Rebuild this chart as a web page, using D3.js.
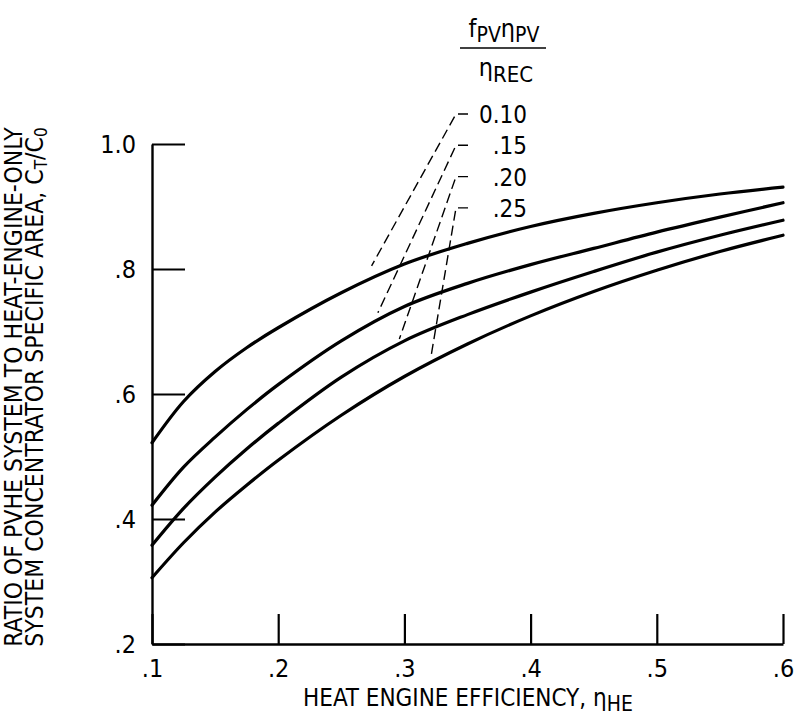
<!DOCTYPE html>
<html>
<head>
<meta charset="utf-8">
<script src="https://cdn.jsdelivr.net/npm/d3@7"></script>
<style>
  body { margin: 0; background: #fff; }
  text { font-family: 'Liberation Sans Narrow', 'DejaVu Sans Condensed', sans-serif; fill: #000; }
</style>
</head>
<body>
<div id="chart"></div>
<script>
// heat engine efficiency (x) and C_T/C_0, one array per curve
var etaHE    = [0.1, 0.125, 0.15, 0.175, 0.2, 0.25, 0.3, 0.35, 0.4, 0.45, 0.5, 0.55, 0.6];
var ratio010 = [0.522, 0.588, 0.636, 0.674, 0.706, 0.762, 0.808, 0.841, 0.868, 0.889, 0.906, 0.920, 0.931];
var ratio015 = [0.422, 0.483, 0.531, 0.575, 0.615, 0.685, 0.740, 0.777, 0.807, 0.833, 0.859, 0.883, 0.906];
var ratio020 = [0.358, 0.417, 0.467, 0.512, 0.553, 0.627, 0.685, 0.727, 0.763, 0.796, 0.827, 0.854, 0.878];
var ratio025 = [0.306, 0.362, 0.411, 0.454, 0.494, 0.566, 0.628, 0.680, 0.725, 0.764, 0.798, 0.828, 0.854];

var curveLabels = ["0.10", ".15", ".20", ".25"];
// where each dashed leader meets its curve (data units)
var leaderEndX = [0.274, 0.279, 0.296, 0.321];
var leaderEndY = [0.805, 0.730, 0.688, 0.659];

var xTicks = [0.1, 0.2, 0.3, 0.4, 0.5, 0.6];
var yTicks = [0.2, 0.4, 0.6, 0.8, 1.0];

var width = 796, height = 720;

var svg = d3.select("#chart")
  .append("svg")
    .attr("width", width)
    .attr("height", height);

var x = d3.scaleLinear().domain([0.1, 0.6]).range([152, 783]);
var y = d3.scaleLinear().domain([0.2, 1.0]).range([644, 144]);

var fmt = function(d) { return d === 1 ? "1.0" : d3.format(".1f")(d).replace(/^0/, ""); };

// axes, ticks point inward
var yAxis = svg.append("g")
    .attr("transform", "translate(" + x(0.1) + ",0)")
    .call(d3.axisLeft(y).tickValues(yTicks).tickSize(-33).tickSizeOuter(0).tickPadding(16).tickFormat(fmt));

var xAxis = svg.append("g")
    .attr("transform", "translate(0," + y(0.2) + ")")
    .call(d3.axisBottom(x).tickValues(xTicks).tickSize(-30).tickSizeOuter(0).tickPadding(15).tickFormat(fmt));

[xAxis, yAxis].forEach(function(a) {
  a.select(".domain").attr("stroke-width", 2.4);
  a.selectAll(".tick line").attr("stroke-width", 2.2);
  a.selectAll(".tick text").style("font-size", "25px").attr("fill", "#000");
});

// curves
var line = d3.line()
    .x(function(d, i) { return x(etaHE[i]); })
    .y(function(d) { return y(d); })
    .curve(d3.curveCatmullRom.alpha(0.5));

svg.selectAll(".curve")
    .data([ratio010, ratio015, ratio020, ratio025])
    .enter()
    .append("path")
      .attr("class", "curve")
      .attr("d", line)
      .attr("fill", "none")
      .attr("stroke", "#000")
      .attr("stroke-width", 3.2)
      .attr("stroke-linecap", "round");

// legend header: f_PV eta_PV / eta_REC
var hx = 504;
var num = svg.append("text").attr("x", hx).attr("y", 37).attr("text-anchor", "middle");
num.append("tspan").style("font-size", "25px").text("f");
num.append("tspan").style("font-size", "21px").attr("dy", 5).text("PV");
num.append("tspan").style("font-size", "25px").attr("dy", -5).text("η");
num.append("tspan").style("font-size", "21px").attr("dy", 5).text("PV");

svg.append("line")
    .attr("x1", 460).attr("x2", 546)
    .attr("y1", 48).attr("y2", 48)
    .attr("stroke", "#000").attr("stroke-width", 1.6);

var den = svg.append("text").attr("x", hx + 2).attr("y", 76).attr("text-anchor", "middle");
den.append("tspan").style("font-size", "25px").text("η");
den.append("tspan").style("font-size", "22px").attr("dy", 6).text("REC");

// curve labels with dashed leaders
var labelRight = 527, labelBase0 = 123, labelStep = 31.3;
var cornerX = 456, stubX = 468;

curveLabels.forEach(function(lab, i) {
  var by = labelBase0 + i * labelStep;
  svg.append("text")
      .attr("x", labelRight)
      .attr("y", by)
      .attr("text-anchor", "end")
      .style("font-size", "24px")
      .text(lab);

  var ly = by - 9;
  svg.append("path")
      .attr("d", "M" + stubX + "," + ly + "H" + cornerX +
                 "L" + x(leaderEndX[i]) + "," + y(leaderEndY[i]))
      .attr("fill", "none")
      .attr("stroke", "#000")
      .attr("stroke-width", 1.4)
      .attr("stroke-dasharray", "10,5");
});

// axis titles
var xt = svg.append("text")
    .attr("x", 303)
    .attr("y", 706)
    .style("font-size", "24px");
xt.append("tspan").text("HEAT ENGINE EFFICIENCY, ");
xt.append("tspan").text("η");
xt.append("tspan").attr("dy", 5).style("font-size", "21px").text("HE");

var yt = svg.append("g").attr("transform", "translate(0,387) rotate(-90)");
yt.append("text")
    .attr("x", 0).attr("y", 22)
    .attr("text-anchor", "middle")
    .style("font-size", "24.5px")
    .text("RATIO OF PVHE SYSTEM TO HEAT-ENGINE-ONLY");
var yt2 = yt.append("text")
    .attr("x", 0).attr("y", 43)
    .attr("text-anchor", "middle")
    .style("font-size", "24.5px");
yt2.append("tspan").text("SYSTEM CONCENTRATOR SPECIFIC AREA, C");
yt2.append("tspan").attr("dy", 4).style("font-size", "17px").text("T");
yt2.append("tspan").attr("dy", -4).text("/C");
yt2.append("tspan").attr("dy", 4).style("font-size", "17px").text("0");
</script>
</body>
</html>
